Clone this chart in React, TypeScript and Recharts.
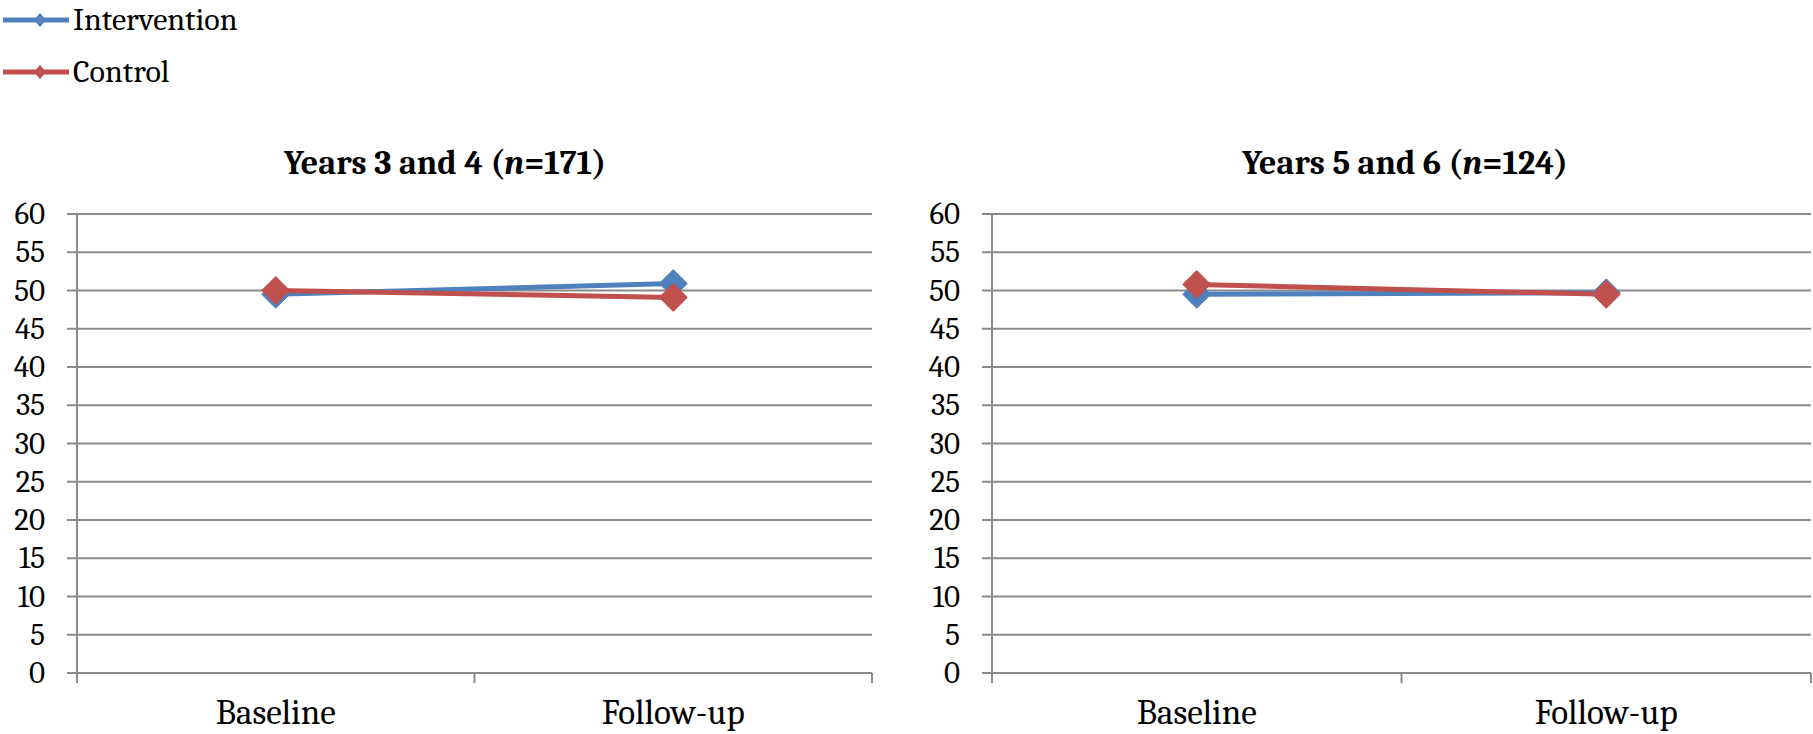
import React from "react";
import { LineChart, Line, XAxis, YAxis, CartesianGrid } from "recharts";

const categories = ["Baseline", "Follow-up"];
const yTicks = [0, 5, 10, 15, 20, 25, 30, 35, 40, 45, 50, 55, 60];
const seriesNames = ["Intervention", "Control"];
const seriesColors = ["#4F81BD", "#C0504D"];

const leftIntervention = [49.5, 50.9];
const leftControl = [50.0, 49.1];
const rightIntervention = [49.5, 49.7];
const rightControl = [50.8, 49.5];

const leftTitle = { pre: "Years 3 and 4 (", it: "n", post: "=171)" };
const rightTitle = { pre: "Years 5 and 6 (", it: "n", post: "=124)" };

const FONT = '"Caladea", "Liberation Serif", serif';
const GRAY = "#8a8a8a";

const buildData = (a: number[], b: number[]) =>
  categories.map((c, i) => ({ x: i + 0.5, name: c, intervention: a[i], control: b[i] }));

const xTicks = [0, 0.5, 1, 1.5, 2];

const Diamond = (props: any) => {
  const { cx, cy, fill } = props;
  if (cx == null || cy == null) return null;
  const r = 14;
  return (
    <polygon
      points={`${cx},${cy - r} ${cx + r},${cy} ${cx},${cy + r} ${cx - r},${cy}`}
      fill={fill}
      stroke={fill}
      strokeWidth={1}
    />
  );
};

const XTick = (props: any) => {
  const { x, y, payload } = props;
  const v = payload.value;
  if (Math.abs(v - Math.round(v)) < 1e-6) {
    return <line x1={x} y1={y} x2={x} y2={y + 10} stroke={GRAY} strokeWidth={2} />;
  }
  const label = categories[Math.round(v - 0.5)];
  return (
    <text x={x} y={y + 51} textAnchor="middle" style={{ fontFamily: FONT, fontSize: 35 }} fill="#000">
      {label}
    </text>
  );
};

const YTick = (props: any) => {
  const { x, y, payload } = props;
  return (
    <text x={x} y={y + 10} textAnchor="end" style={{ fontFamily: FONT, fontSize: 31 }} fill="#000">
      {payload.value}
    </text>
  );
};

type PanelProps = {
  left: number;
  width: number;
  yAxisWidth: number;
  marginRight: number;
  a: number[];
  b: number[];
};

const Panel = ({ left, width, yAxisWidth, marginRight, a, b }: PanelProps) => {
  const data = buildData(a, b);
  return (
    <div style={{ position: "absolute", left, top: 0, width, height: 734 }}>
      <LineChart
        width={width}
        height={734}
        data={data}
        margin={{ top: 214, right: marginRight, bottom: 10, left: 0 }}
      >
        <CartesianGrid vertical={false} stroke={GRAY} strokeWidth={2} />
        <XAxis
          dataKey="x"
          type="number"
          domain={[0, categories.length]}
          ticks={xTicks}
          interval={0}
          height={51}
          tickSize={0}
          tickMargin={0}
          tickLine={false}
          axisLine={{ stroke: GRAY, strokeWidth: 2 }}
          tick={<XTick />}
        />
        <YAxis
          type="number"
          domain={[0, 60]}
          ticks={yTicks}
          interval={0}
          width={yAxisWidth}
          tickSize={10}
          tickMargin={22}
          tickLine={{ stroke: GRAY, strokeWidth: 2 }}
          axisLine={{ stroke: GRAY, strokeWidth: 2 }}
          tick={<YTick />}
        />
        <Line
          dataKey="intervention"
          name={seriesNames[0]}
          type="linear"
          stroke={seriesColors[0]}
          strokeWidth={5}
          isAnimationActive={false}
          activeDot={false}
          dot={(p: any) => <Diamond key={`i-${p.index}`} cx={p.cx} cy={p.cy} fill={seriesColors[0]} />}
        />
        <Line
          dataKey="control"
          name={seriesNames[1]}
          type="linear"
          stroke={seriesColors[1]}
          strokeWidth={5}
          isAnimationActive={false}
          activeDot={false}
          dot={(p: any) => <Diamond key={`c-${p.index}`} cx={p.cx} cy={p.cy} fill={seriesColors[1]} />}
        />
      </LineChart>
    </div>
  );
};

const Overlay = () => (
  <svg
    width={1813}
    height={734}
    style={{ position: "absolute", left: 0, top: 0, pointerEvents: "none" }}
  >
    {seriesNames.map((n, i) => {
      const y = 20 + i * 52;
      const c = seriesColors[i];
      return (
        <g key={n}>
          <line x1={3} y1={y} x2={69} y2={y} stroke={c} strokeWidth={5} />
          <polygon points={`40,${y - 7} 46,${y} 40,${y + 7} 34,${y}`} fill={c} />
          <text x={73} y={y + 10} style={{ fontFamily: FONT, fontSize: 32 }} fill="#000">
            {n}
          </text>
        </g>
      );
    })}
    {[
      { t: leftTitle, cx: 445 },
      { t: rightTitle, cx: 1405 },
    ].map(({ t, cx }, i) => (
      <text
        key={i}
        x={cx}
        y={174}
        textAnchor="middle"
        style={{ fontFamily: FONT, fontSize: 34, fontWeight: "bold" }}
        fill="#000"
      >
        {t.pre}
        <tspan style={{ fontStyle: "italic" }}>{t.it}</tspan>
        {t.post}
      </text>
    ))}
  </svg>
);

export default function App() {
  return (
    <div style={{ position: "absolute", left: 0, top: 0, width: 1813, height: 734, background: "#fff" }}>
      <Panel left={0} width={880} yAxisWidth={77} marginRight={8} a={leftIntervention} b={leftControl} />
      <Panel left={880} width={933} yAxisWidth={112} marginRight={2} a={rightIntervention} b={rightControl} />
      <Overlay />
    </div>
  );
}
